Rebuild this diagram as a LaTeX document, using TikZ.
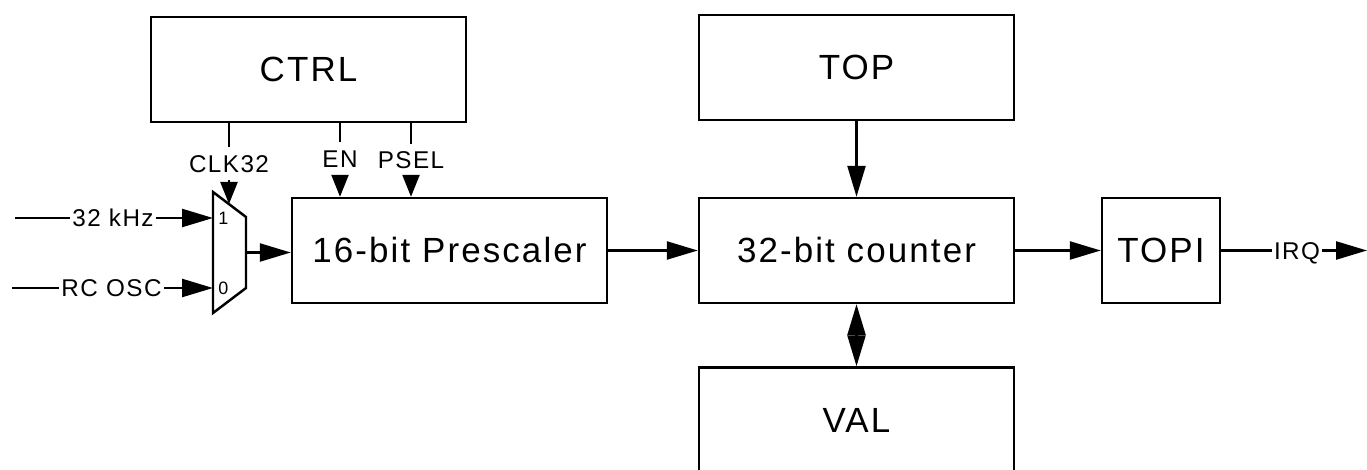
\documentclass[tikz,border=0pt]{standalone}
\usepackage{fontspec}
\setmainfont{Liberation Sans}[LetterSpace=6]
\usetikzlibrary{arrows.meta}

\tikzset{
	blk/.style={draw, line width=1.4pt, minimum width=6.3cm, minimum height=2.1cm, font=\fontsize{19.9}{24}\selectfont},
	lbl/.style={inner xsep=0.04cm, inner ysep=0.15cm, text height=9.8pt, text depth=0pt, font=\fontsize{13.8}{16}\selectfont},
	muxlbl/.style={anchor=west, inner sep=0.1cm, font=\fontsize{10.2}{12}\selectfont},
	sig/.style={line width=1.4pt},
	ctl/.style={sig, -{Triangle[length=0.44cm, width=0.34cm]}},
}

\begin{document}
\begin{tikzpicture}[>={Triangle[length=0.62cm, width=0.36cm]}, line join=miter]
	\useasboundingbox (0,0) rectangle (27.34,9.38);
	\node[blk] (ctrl) at (6.17,7.99) {CTRL};
	\node[blk] (top) at (17.13,8.03) {TOP};
	\node[blk] (pre) at (8.99,4.37) {16-bit Prescaler};
	\node[blk] (cnt) at (17.13,4.37) {32-bit counter};
	\node[blk, minimum width=2.36cm] (topi) at (23.22,4.37) {TOPI};
	\node[blk] (val) at (17.13,0.98) {VAL};
	% clock mux
	\coordinate (mux a) at (4.26,5.54);
	\coordinate (mux b) at (4.92,5.04);
	\coordinate (mux c) at (4.92,3.62);
	\coordinate (mux d) at (4.26,3.12);
	\coordinate (mux in1) at (4.26,5.02);
	\coordinate (mux in0) at (4.26,3.62);
	\coordinate (mux sel) at (4.58,5.30);
	\coordinate (mux out) at (4.92,4.33);
	\draw[sig] (mux a) -- (mux b) -- (mux c) -- (mux d) -- cycle;
	\node[muxlbl] (one) at (mux in1) {1};
	\node[muxlbl] (zero) at (mux in0) {0};
	\coordinate (khz in) at (0.30,5.02);
	\coordinate (rc in) at (0.24,3.62);
	\node[lbl] (khz) at (2.26,5.02) {32 kHz};
	\node[lbl] (rc) at (2.23,3.62) {RC OSC};
	\draw[sig] (khz in) -- (khz);
	\draw[sig,->] (khz) -- (mux in1);
	\draw[sig] (rc in) -- (rc);
	\draw[sig,->] (rc) -- (mux in0);
	\draw[sig,->] (mux out) -- (mux out -| pre.west);
	% control signals
	\node[lbl] (clk) at (4.58,6.11) {CLK32};
	\node[lbl] (en) at (6.80,6.21) {EN};
	\node[lbl] (psel) at (8.22,6.18) {PSEL};
	\draw[sig] (ctrl.south -| clk) -- (clk.north);
	\draw[ctl] (clk.south) -- (mux sel);
	\draw[sig] (ctrl.south -| en) -- (en.north);
	\draw[ctl] (en.south) -- (pre.north -| en);
	\draw[sig] (ctrl.south -| psel) -- (psel.north);
	\draw[ctl] (psel.south) -- (pre.north -| psel);
	% counter
	\draw[sig,->] (pre) -- (cnt);
	\draw[sig,->] (top) -- (cnt);
	\draw[sig,<->] (cnt) -- (val);
	\draw[sig,->] (cnt) -- (topi);
	\node[lbl] (irq) at (25.94,4.37) {IRQ};
	\coordinate (irq out) at (27.34,4.37);
	\draw[sig] (topi) -- (irq);
	\draw[sig,->] (irq) -- (irq out);
\end{tikzpicture}
\end{document}
